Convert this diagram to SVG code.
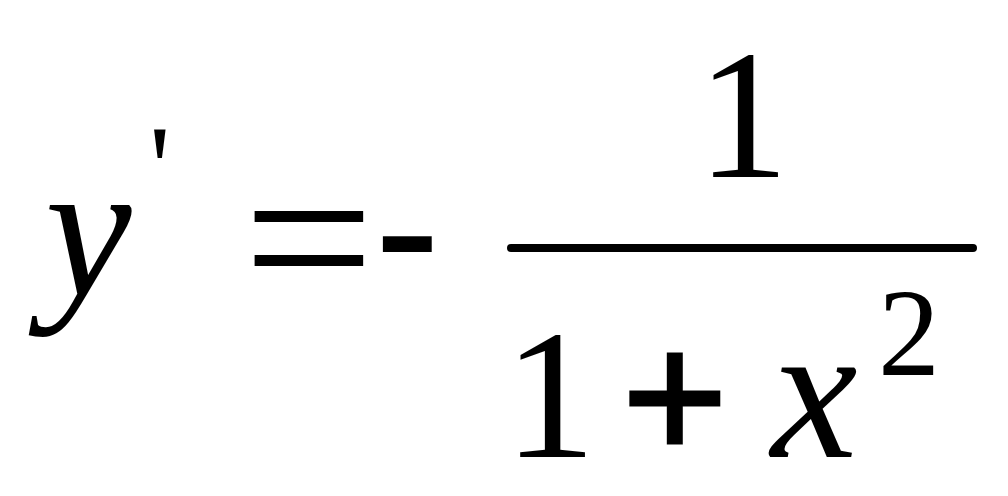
<svg xmlns="http://www.w3.org/2000/svg" width="1008" height="496" viewBox="0 0 1008 496">
<style>
.s{font-family:"Liberation Serif","Times New Roman",serif;fill:#000}
.i{font-style:italic}
.op{font-family:"Liberation Sans",Arial,sans-serif;fill:#000}
</style>
<rect width="1008" height="496" fill="#fff"/>
<g id="lhs">
<text class="s i" x="45" y="295" font-size="195">y</text>
<text class="s" x="149" y="209" font-size="120">'</text>
</g>
<g id="equals">
<text class="s" transform="translate(243,311) scale(1.07,1)" x="0" y="0" font-size="218">=</text>
<text class="op" x="374" y="297" font-size="200">-</text>
</g>
<g id="fraction">
<text class="s" x="743" y="177" font-size="184" text-anchor="middle">1</text>
<line x1="511" y1="248" x2="973" y2="248" stroke="#000" stroke-width="8" stroke-linecap="round"/>
<text class="s" x="550" y="457" font-size="184" text-anchor="middle">1</text>
<text class="op" x="622" y="459" font-size="181" stroke="#000" stroke-width="3">+</text>
<text class="s i" x="771" y="457" font-size="195">x</text>
<text class="s" x="878" y="375" font-size="124">2</text>
</g>
</svg>
